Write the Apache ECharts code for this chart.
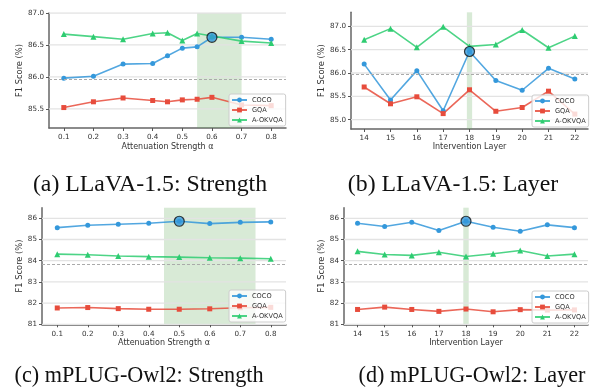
<!DOCTYPE html>
<html>
<head>
<meta charset="utf-8">
<script src="https://cdn.jsdelivr.net/npm/echarts@6/dist/echarts.min.js"></script>
<style>
html, body { margin: 0; padding: 0; background: #fff; }
#chart { width: 590px; height: 392px; }
</style>
</head>
<body>
<div id="chart"></div>
<script>
// ---- data ----
const seriesNames = ['COCO', 'GQA', 'A-OKVQA'];

const llavaStrengthX = [0.1, 0.2, 0.3, 0.4, 0.45, 0.5, 0.55, 0.6, 0.7, 0.8];
const llavaStrengthCoco = [85.98, 86.01, 86.20, 86.21, 86.33, 86.45, 86.47, 86.62, 86.62, 86.59];
const llavaStrengthGqa = [85.52, 85.61, 85.67, 85.63, 85.61, 85.64, 85.65, 85.68, 85.56, 85.55];
const llavaStrengthOkvqa = [86.67, 86.63, 86.59, 86.68, 86.69, 86.57, 86.68, 86.64, 86.56, 86.53];

const layerX = [14, 15, 16, 17, 18, 19, 20, 21, 22];
const llavaLayerCoco = [86.19, 85.42, 86.05, 85.19, 86.46, 85.84, 85.63, 86.10, 85.87];
const llavaLayerGqa = [85.70, 85.34, 85.49, 85.13, 85.64, 85.18, 85.26, 85.61, 85.12];
const llavaLayerOkvqa = [86.71, 86.95, 86.55, 86.99, 86.57, 86.61, 86.92, 86.54, 86.79];

const owlStrengthX = [0.1, 0.2, 0.3, 0.4, 0.5, 0.6, 0.7, 0.8];
const owlStrengthCoco = [85.56, 85.67, 85.72, 85.77, 85.86, 85.75, 85.81, 85.83];
const owlStrengthGqa = [81.77, 81.79, 81.74, 81.71, 81.71, 81.73, 81.78, 81.80];
const owlStrengthOkvqa = [84.31, 84.28, 84.22, 84.19, 84.17, 84.14, 84.12, 84.09];

const owlLayerCoco = [85.77, 85.61, 85.81, 85.42, 85.86, 85.58, 85.39, 85.69, 85.56];
const owlLayerGqa = [81.70, 81.81, 81.70, 81.61, 81.72, 81.59, 81.69, 81.67, 81.68];
const owlLayerOkvqa = [84.44, 84.29, 84.25, 84.40, 84.20, 84.33, 84.48, 84.22, 84.31];

// tick labels
const strengthTicks = [0.1, 0.2, 0.3, 0.4, 0.5, 0.6, 0.7, 0.8];
const layerTicks = [14, 15, 16, 17, 18, 19, 20, 21, 22];
const llavaStrengthYTicks = [85.5, 86.0, 86.5, 87.0];
const llavaLayerYTicks = [85.0, 85.5, 86.0, 86.5, 87.0];
const owlYTicks = [81, 82, 83, 84, 85, 86];

// baselines, shaded ranges, best settings
const llavaBaseline = 85.97;
const owlBaseline = 83.84;
const llavaStrengthBand = [0.55, 0.7];
const owlStrengthBand = [0.45, 0.75];
const layerBand = [17.9, 18.1];
const llavaBestStrength = 0.6;
const owlBestStrength = 0.5;
const bestLayer = 18;

const captions = ['(a) LLaVA-1.5: Strength', '(b) LLaVA-1.5: Layer',
                  '(c) mPLUG-Owl2: Strength', '(d) mPLUG-Owl2: Layer'];

// ---- layout ----
const colors = ['#3498db', '#e74c3c', '#2ecc71'];
const symbols = ['circle', 'rect', 'triangle'];
const symbolSizes = [5, 5, 6];
const FONT = 'DejaVu Sans';

const panels = [
    { x: llavaStrengthX, ys: [llavaStrengthCoco, llavaStrengthGqa, llavaStrengthOkvqa],
      xTicks: strengthTicks, yTicks: llavaStrengthYTicks, xMin: 0.05, xMax: 0.85, yMin: 85.2, yMax: 87.0,
      baseline: llavaBaseline, band: llavaStrengthBand, best: llavaBestStrength,
      xName: 'Attenuation Strength α', xFmt: v => v.toFixed(1), yFmt: v => v.toFixed(1),
      grid: { left: 49, top: 13, width: 237, height: 115 }, yNameGap: 24, xNameGap: 15,
      legend: { left: 229, top: 94 }, caption: { x: 150, y: 185, size: 23.8 } },
    { x: layerX, ys: [llavaLayerCoco, llavaLayerGqa, llavaLayerOkvqa],
      xTicks: layerTicks, yTicks: llavaLayerYTicks, xMin: 13.5, xMax: 22.5, yMin: 84.8, yMax: 87.3,
      baseline: llavaBaseline, band: layerBand, best: bestLayer,
      xName: 'Intervention Layer', xFmt: v => String(v), yFmt: v => v.toFixed(1),
      grid: { left: 351, top: 12.3, width: 237, height: 116.7 }, yNameGap: 23.5, xNameGap: 14,
      legend: { left: 532, top: 95 }, caption: { x: 453, y: 185, size: 23.8 } },
    { x: owlStrengthX, ys: [owlStrengthCoco, owlStrengthGqa, owlStrengthOkvqa],
      xTicks: strengthTicks, yTicks: owlYTicks, xMin: 0.05, xMax: 0.85, yMin: 81, yMax: 86.5,
      baseline: owlBaseline, band: owlStrengthBand, best: owlBestStrength,
      xName: 'Attenuation Strength α', xFmt: v => v.toFixed(1), yFmt: v => String(v),
      grid: { left: 42, top: 207.7, width: 244, height: 116.6 }, yNameGap: 17, xNameGap: 15,
      legend: { left: 229, top: 290 }, caption: { x: 139, y: 376, size: 22.2 } },
    { x: layerX, ys: [owlLayerCoco, owlLayerGqa, owlLayerOkvqa],
      xTicks: layerTicks, yTicks: owlYTicks, xMin: 13.5, xMax: 22.5, yMin: 81, yMax: 86.5,
      baseline: owlBaseline, band: layerBand, best: bestLayer,
      xName: 'Intervention Layer', xFmt: v => String(v), yFmt: v => String(v),
      grid: { left: 344, top: 207.7, width: 244, height: 116.6 }, yNameGap: 17, xNameGap: 15,
      legend: { left: 532, top: 291 }, caption: { x: 472, y: 376, size: 22.2 } }
];

const grids = [], xAxes = [], yAxes = [], series = [], legends = [], graphics = [];

panels.forEach((p, i) => {
    grids.push(p.grid);

    xAxes.push({
        type: 'value', gridIndex: i, min: p.xMin, max: p.xMax,
        name: p.xName, nameLocation: 'middle', nameGap: p.xNameGap,
        nameTextStyle: { fontFamily: FONT, fontSize: 8, color: '#333' },
        axisLine: { show: true, onZero: false, lineStyle: { color: '#666', width: 1.5 } },
        axisTick: { show: true, customValues: p.xTicks, length: 3, lineStyle: { color: '#555', width: 1 } },
        axisLabel: { customValues: p.xTicks, formatter: p.xFmt, fontFamily: FONT, fontSize: 7.2, color: '#333', margin: 6 },
        splitLine: { show: false }
    });

    yAxes.push({
        type: 'value', gridIndex: i, min: p.yMin, max: p.yMax,
        name: 'F1 Score (%)', nameLocation: 'middle', nameGap: p.yNameGap,
        nameTextStyle: { fontFamily: FONT, fontSize: 8.3, color: '#333' },
        axisLine: { show: true, lineStyle: { color: '#666', width: 1.5 } },
        axisTick: { show: true, customValues: p.yTicks, length: 3, lineStyle: { color: '#555', width: 1 } },
        axisLabel: { customValues: p.yTicks, formatter: p.yFmt, fontFamily: FONT, fontSize: 7.2, color: '#333', margin: 5 },
        splitLine: { show: false }
    });

    // horizontal grid lines at the y ticks
    p.yTicks.forEach(v => {
        series.push({
            type: 'line', xAxisIndex: i, yAxisIndex: i, silent: true, z: 1,
            data: [[p.xMin, v], [p.xMax, v]], symbol: 'none',
            lineStyle: { color: '#e3e3e3', width: 1.3 },
            emphasis: { disabled: true }, animation: false
        });
    });
    // shaded best range
    series.push({
        type: 'line', xAxisIndex: i, yAxisIndex: i, data: [], silent: true, z: 1,
        markArea: {
            silent: true, itemStyle: { color: 'rgba(100,170,90,0.25)' },
            data: [[{ xAxis: p.band[0] }, { xAxis: p.band[1] }]]
        }
    });
    // baseline
    series.push({
        type: 'line', xAxisIndex: i, yAxisIndex: i, data: [], silent: true, z: 2,
        markLine: {
            silent: true, symbol: 'none', label: { show: false },
            lineStyle: { color: '#aaa', width: 1, type: [3, 2] },
            data: [{ yAxis: p.baseline }]
        }
    });

    p.ys.forEach((vals, k) => {
        series.push({
            name: seriesNames[k], type: 'line', xAxisIndex: i, yAxisIndex: i, z: 3,
            data: p.x.map((xv, j) => [xv, vals[j]]),
            symbol: symbols[k], symbolSize: symbolSizes[k], showAllSymbol: true,
            lineStyle: { color: colors[k], width: 1.6, opacity: 0.85 },
            itemStyle: { color: colors[k] },
            emphasis: { disabled: true }, animation: false
        });
    });

    const bi = p.x.indexOf(p.best);
    series.push({
        type: 'scatter', xAxisIndex: i, yAxisIndex: i, z: 5,
        data: [[p.best, p.ys[0][bi]]], symbolSize: 10,
        itemStyle: { color: colors[0], borderColor: '#111', borderWidth: 1.2 },
        animation: false
    });

    legends.push({
        data: seriesNames, orient: 'vertical', left: p.legend.left, top: p.legend.top,
        itemWidth: 15, itemHeight: 6, itemGap: 2, padding: [2, 3, 2, 2],
        backgroundColor: 'rgba(255,255,255,0.8)', borderColor: '#ccc', borderWidth: 1, borderRadius: 2,
        textStyle: { fontFamily: FONT, fontSize: 6.6, color: '#333', lineHeight: 8 },
        selectedMode: false
    });

    graphics.push({
        type: 'text', x: p.caption.x, y: p.caption.y,
        style: { text: captions[i], fontFamily: 'Liberation Serif', fontSize: p.caption.size, fill: '#111',
                 textAlign: 'center', textVerticalAlign: 'middle' }
    });
});

const chart = echarts.init(document.getElementById('chart'));
chart.setOption({
    animation: false,
    grid: grids, xAxis: xAxes, yAxis: yAxes,
    series: series, legend: legends, graphic: graphics
});
</script>
</body>
</html>
